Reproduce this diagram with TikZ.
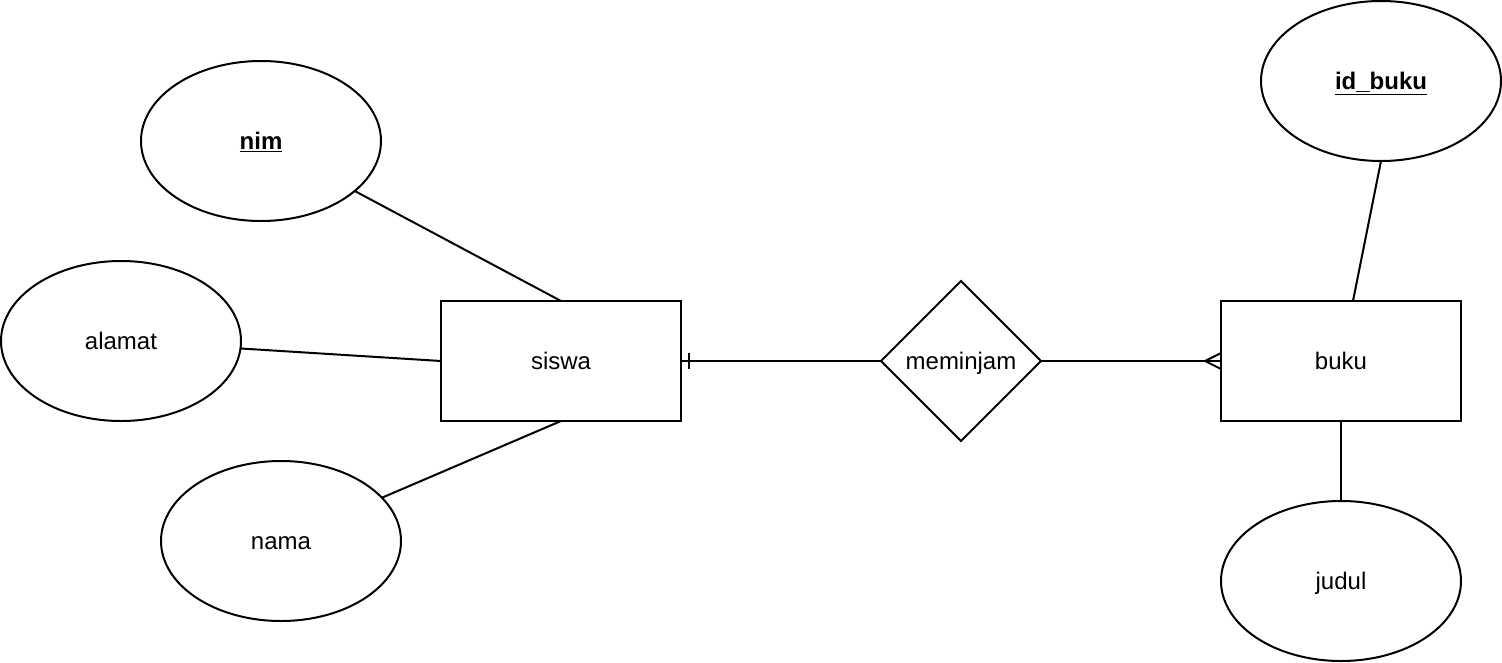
\documentclass[tikz,border=0pt]{standalone}
\usepackage{fontspec}
\setmainfont{Liberation Sans}
\usetikzlibrary{shapes.geometric}
\tikzset{
  attr/.style={ellipse, draw, line width=2pt, minimum width=240pt, minimum height=160pt, inner sep=0pt, outer sep=0pt},
  entity/.style={rectangle, draw, line width=2pt, minimum width=240pt, minimum height=120pt, inner sep=0pt, outer sep=0pt},
  rel/.style={diamond, draw, line width=2pt, minimum width=160pt, minimum height=160pt, inner sep=0pt, outer sep=0pt},
  conn/.style={line width=2pt}
}
\newcommand{\keyul}[1]{\underline{#1}}
\begin{document}
\begin{tikzpicture}[x=1pt,y=-1pt, every node/.style={font=\fontsize{24}{28}\selectfont, text height=17pt, text depth=0pt}]
\useasboundingbox (0,0) rectangle (1502,662);
\node[attr] (nim) at (261,141) {\textbf{\keyul{nim}}};
\node[attr] (alamat) at (121,341) {alamat};
\node[attr] (nama) at (281,541) {nama};
\node[entity] (siswa) at (561,361) {siswa};
\node[rel] (meminjam) at (961,361) {meminjam};
\node[entity] (buku) at (1341,361) {buku};
\node[attr] (idbuku) at (1381,81) {\textbf{\keyul{id\_buku}}};
\node[attr] (judul) at (1341,581) {judul};

\draw[conn] (nim) -- (siswa.north);
\draw[conn] (alamat) -- (siswa.west);
\draw[conn] (nama) -- (siswa.south);
\coordinate (bukutop) at ([xshift=12pt]buku.north);
\draw[conn] (idbuku.south) -- (bukutop);
\draw[conn] (buku.south) -- (judul.north);

% one mandatory bar
\draw[conn] (siswa.east) -- (meminjam.west);
\draw[conn] ([xshift=8pt,yshift=-8pt]siswa.east) -- ([xshift=8pt,yshift=8pt]siswa.east);
% crow's foot
\draw[conn] (meminjam.east) -- (buku.west);
\draw[conn] ([yshift=-8pt]buku.west) -- ([xshift=-16pt]buku.west) -- ([yshift=8pt]buku.west);
\end{tikzpicture}
\end{document}
